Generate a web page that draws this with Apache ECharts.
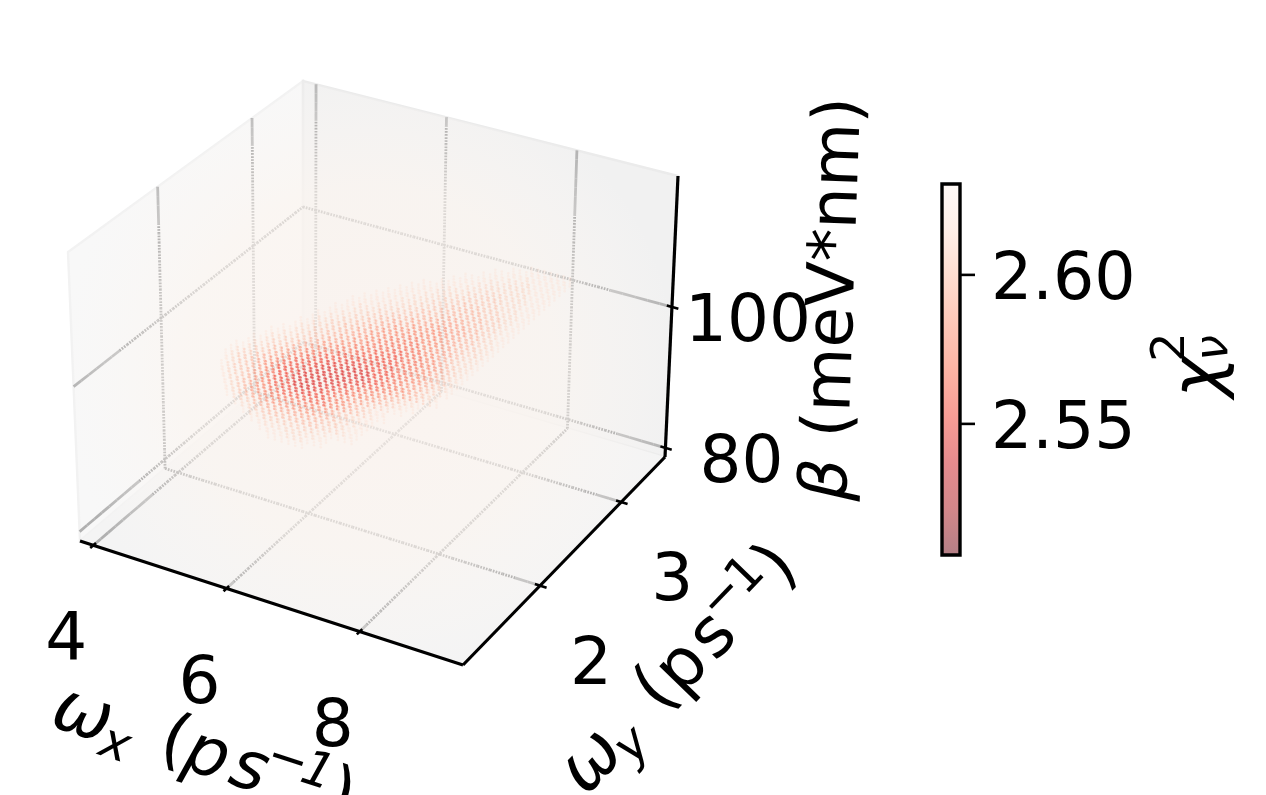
<!DOCTYPE html>
<html><head><meta charset="utf-8">
<style>html,body{margin:0;padding:0;background:#fff}#c{width:1266px;height:795px}</style>
<script src="https://cdn.jsdelivr.net/npm/echarts@6/dist/echarts.min.js"></script>
</head><body><div id="c"></div>
<script>
const xRange=[3.8,9.55], yRange=[1.05,3.54], zRange=[78.7,118.6];
const xTicks=[4,6,8], yTicks=[2,3], zTicks=[80,100];
const cbTicks=[2.55,2.60], cbRange=[2.506,2.6305];
const betaPlanes=[99.4,99.8,100.2,100.6];
const wxGrid=[5.0,5.1,5.2,5.3,5.4,5.5,5.6,5.7,5.8,5.9,6.0,6.1,6.2,6.3,6.4,6.5,6.6,6.7,6.8,6.9,7.0,7.1,7.2,7.3,7.4,7.5,7.6,7.7,7.8,7.9,8.0,8.1,8.2];
const wyGrid=[3.51,3.45,3.39,3.33,3.27,3.21,3.15,3.09,3.03,2.97,2.91,2.85,2.79,2.73,2.67,2.61,2.55,2.49,2.43,2.37,2.31,2.25,2.19,2.13,2.07,2.01,1.95,1.89,1.83,1.77,1.71,1.65,1.59,1.53,1.47,1.41,1.35,1.29,1.23,1.17];
const chiByDigit=[null,2.612,2.602,2.594,2.586,2.578,2.57,2.562,2.553,2.543];
const rowStart=[24,22,20,19,17,16,15,13,12,11,10,9,8,7,7,6,6,5,5,4,4,3,2,2,1,1,0,0,0,1,1,2,3,4,5,7,9,11,13,15];
const rowDigits=[
"1111111","111111111","11111211111","111122221111","11112222221111","111122222222111","1111222333222111",
"111122233333222111","1111222333333322211","11112223334443332211","111122233344444333211","1111222333444444433211",
"11112223344445554433211","111122233444555555443211","112223344455566655443221","1112233445556666655443221",
"1122334455666666655443321","11223344556666776665543221","12233445566677777665543221","112233445566777777766543221",
"122334455667777887776654321","1122334556677788887776654321","11223345667778888887776654321","12233456677888888888776654321",
"112334567788889999888776654321","12234567788899999998877654321","1123345678889999999988776654321",
"12334567888999999988776654321","12334567888999999887766543211","123345678899999887766543211",
"1233456788899988766543211","1223456778888888776543211","12345667777777665432211","1234556666666655433211",
"123345555555544332111","1223344444444333211","12233333333221111","112222222211","1111222111","111111"];
const redsR=[[103,0,13],[165,15,21],[203,24,29],[239,59,44],[251,106,74],[252,146,114],[252,187,161],[254,224,210],[255,245,240]];

const corners={A:[80,541],F:[463,665],R:[665,457],B:[303,351],At:[68,252],Ft:[467,365],Rt:[678,176],Bt:[303,81]};
const washC=[370,370], washR=310;
const mix=(p,q,t)=>[p[0]+(q[0]-p[0])*t,p[1]+(q[1]-p[1])*t];
function project(x,y,z){
  const u=(x-xRange[0])/(xRange[1]-xRange[0]),v=(y-yRange[0])/(yRange[1]-yRange[0]),w=(z-zRange[0])/(zRange[1]-zRange[0]);
  const c=corners;
  const low=mix(mix(c.A,c.F,u),mix(c.B,c.R,u),v),top=mix(mix(c.At,c.Ft,u),mix(c.Bt,c.Rt,u),v);
  return mix(low,top,w);
}
function chiColor(chi,alpha){
  const t=Math.min(1,Math.max(0,(chi-cbRange[0])/(cbRange[1]-cbRange[0])))*(redsR.length-1);
  const i=Math.min(redsR.length-2,Math.floor(t)),f=t-i;
  const a=redsR[i],b=redsR[i+1];
  return 'rgba('+[0,1,2].map(k=>Math.round(a[k]+(b[k]-a[k])*f)).join(',')+','+alpha+')';
}
const [x0,x1]=xRange,[y0,y1]=yRange,[z0,z1]=zRange;
const dots=[];
betaPlanes.forEach(beta=>rowDigits.forEach((row,r)=>{[...row].forEach((d,k)=>{
  const chi=chiByDigit[+d]; if(chi==null) return;
  const p=project(wxGrid[rowStart[r]+k],wyGrid[r],beta);
  dots.push({value:[p[0],p[1],chi],itemStyle:{color:chiColor(chi,0.25+0.05*(+d))}});
});}));

const FONT='"DejaVu Sans"';
const line=(api,a,b,stroke,width,dash)=>{const p=api.coord(a),q=api.coord(b);return{type:'line',shape:{x1:p[0],y1:p[1],x2:q[0],y2:q[1]},style:{stroke,lineWidth:width,lineCap:'butt',lineDash:dash||null}};};
const poly=(api,pts,fill,stroke)=>({type:'polygon',shape:{points:pts.map(p=>api.coord(p))},style:{fill,stroke:stroke||null,lineWidth:stroke?2.4:0}});
const txt=(x,y,s,size,italic,align)=>({type:'text',x,y,style:{text:s,fontFamily:FONT,fontSize:size,fontStyle:italic?'italic':'normal',fill:'#000',align:align||'center',verticalAlign:'middle'}});
const one=(name,render,z)=>({type:'custom',name,coordinateSystem:'cartesian2d',xAxisIndex:0,yAxisIndex:0,data:[[0,0]],encode:{x:0,y:1},clip:false,silent:true,z,renderItem:(p,api)=>({type:'group',children:render(api)})});

function panes(api){
  const P=project;
  return [
   poly(api,[P(x0,y0,z0),P(x0,y1,z0),P(x0,y1,z1),P(x0,y0,z1)],'#f8f8f8','#f2f2f2'),
   poly(api,[P(x0,y1,z0),P(x1,y1,z0),P(x1,y1,z1),P(x0,y1,z1)],'#f1f1f1','#ebebeb'),
   poly(api,[P(x0,y0,z0),P(x1,y0,z0),P(x1,y1,z0),P(x0,y1,z0)],'#f4f4f4')
  ];
}
function gridPiece(api,o,a,b){
  const n=30;
  for(let i=0;i<n;i++){
    const p=mix(a,b,i/n),q=mix(a,b,(i+1)/n),m=mix(p,q,0.5);
    const inside=Math.hypot(m[0]-washC[0],m[1]-washC[1])<washR*0.82;
    o.push(line(api,p,q,inside?'#8f8f8f':'#b0b0b0',2.8,inside?[1.7,1.2]:null));
  }
}
function gridLines(api){
  const P=project,o=[];
  xTicks.forEach(x=>{gridPiece(api,o,P(x,y0,z0),P(x,y1,z0));gridPiece(api,o,P(x,y1,z0),P(x,y1,z1));});
  yTicks.forEach(y=>{gridPiece(api,o,P(x0,y,z0),P(x1,y,z0));gridPiece(api,o,P(x0,y,z0),P(x0,y,z1));});
  zTicks.forEach(z=>{gridPiece(api,o,P(x0,y0,z),P(x0,y1,z));gridPiece(api,o,P(x0,y1,z),P(x1,y1,z));});
  return o;
}
function wash(api){
  const P=project;
  const c=api.coord(washC);
  return [poly(api,[P(x0,y0,z0),P(x0,y0,z1),P(x0,y1,z1),P(x1,y1,z1),P(x1,y1,z0),P(x1,y0,z0)],
    {type:'radial',x:c[0],y:c[1],r:washR,global:true,colorStops:[
      {offset:0,color:'rgba(252,243,238,0.85)'},{offset:0.6,color:'rgba(251,245,240,0.7)'},
      {offset:0.85,color:'rgba(250,246,243,0.3)'},{offset:1,color:'rgba(248,246,245,0)'}]})];
}
function axes(api){
  const P=project,K='#000',o=[];
  o.push(line(api,P(x0,y0,z0),P(x1,y0,z0),K,3.2));
  o.push(line(api,P(x1,y0,z0),P(x1,y1,z0),K,3.2));
  o.push(line(api,P(x1,y1,z0),P(x1,y1,z1),K,3.2));
  xTicks.forEach(x=>{o.push(line(api,P(x,y0-0.035,z0),P(x,y0+0.03,z0),K,2.6));
    const p=api.coord(P(x,y0,z0));o.push(txt(p[0]-27,p[1]+97,String(x),66));});
  yTicks.forEach(y=>{o.push(line(api,P(x1-0.08,y,z0),P(x1+0.1,y,z0),K,2.6));
    const p=api.coord(P(x1,y,z0));o.push(txt(p[0]+51,p[1]+81,String(y),66));});
  zTicks.forEach(z=>{o.push(line(api,P(x1-0.08,y1,z),P(x1+0.1,y1,z),K,2.6));
    const p=api.coord(P(x1,y1,z));o.push(txt(p[0]+76,p[1]+17,String(z),66));});
  const omegaTitle=(x,y,rot,sub,italic)=>({type:'group',x,y,rotation:rot,children:[
    txt(0,0,'ω',70,true),txt(40,18,sub,49,true),txt(96,-3,'(',68,false),
    txt(131,0,'p',68,italic),txt(175,0,'s',68,italic),txt(209,-21,'−',49,false),txt(241,-19,'1',49,italic),txt(270,-3,')',68,false)]});
  const a=api.coord([82,717]),b=api.coord([593,763]),c=api.coord([836,299]),d=api.coord([1202,377]);
  o.push(omegaTitle(a[0],a[1],-18*Math.PI/180,'x',true));
  o.push(omegaTitle(b[0],b[1],46*Math.PI/180,'y',false));
  o.push({type:'text',x:c[0],y:c[1],rotation:88*Math.PI/180,style:{text:'{b|β} (meV*nm)',fontFamily:FONT,fontSize:66,fill:'#000',align:'center',verticalAlign:'middle',
    rich:{b:{fontFamily:FONT,fontSize:66,fontStyle:'italic',fill:'#000'}}}});
  o.push({type:'group',x:d[0],y:d[1],rotation:Math.PI/2,children:[txt(0,0,'χ',70,true),txt(30,-30,'2',46,false),txt(29,13,'ν',46,true)]});
  return o;
}
const cbStops=redsR.map((c,i)=>({offset:1-i/(redsR.length-1),color:'rgba('+c.join(',')+',0.5)'}));

const option={
  animation:false,backgroundColor:'#fff',
  grid:[{left:0,top:0,width:1266,height:795,containLabel:false},{left:942,top:184,width:18,height:371,containLabel:false}],
  xAxis:[{type:'value',min:0,max:1266,show:false,gridIndex:0},{type:'value',min:0,max:1,show:false,gridIndex:1}],
  yAxis:[{type:'value',min:0,max:795,inverse:true,show:false,gridIndex:0},
   {type:'value',min:cbRange[0],max:cbRange[1],gridIndex:1,position:'right',scale:true,
    axisLine:{show:false},splitLine:{show:false},axisTick:{show:false},axisLabel:{show:false}}],
  series:[
   one('panes',panes,1),one('grid',gridLines,2),one('wash',wash,3),
   {type:'scatter',name:'chi',xAxisIndex:0,yAxisIndex:0,data:dots,symbol:'circle',symbolSize:2.6,silent:true,z:4,large:false,progressive:0,clip:false},
   one('axes',axes,5),
   {type:'custom',name:'colorbar',coordinateSystem:'cartesian2d',xAxisIndex:1,yAxisIndex:1,data:[[0,cbRange[0]]],encode:{x:0,y:1},silent:true,clip:false,z:6,
    renderItem:(p,api)=>{const a=api.coord([0,cbRange[1]]),b=api.coord([1,cbRange[0]]);
      const kids=[{type:'rect',shape:{x:a[0],y:a[1],width:b[0]-a[0],height:b[1]-a[1]},
        style:{fill:{type:'linear',x:0,y:0,x2:0,y2:1,colorStops:cbStops},stroke:'#000',lineWidth:3.4}}];
      cbTicks.forEach(t=>{const q=api.coord([1,t]);
        kids.push({type:'line',shape:{x1:q[0],y1:q[1],x2:q[0]+15,y2:q[1]},style:{stroke:'#000',lineWidth:2.6}});
        kids.push(txt(q[0]+31,q[1]+7.5,t.toFixed(2),65,false,'left'));});
      return{type:'group',children:kids};}}
  ]
};
echarts.init(document.getElementById('c'),null,{renderer:'canvas'}).setOption(option);
</script></body></html>
